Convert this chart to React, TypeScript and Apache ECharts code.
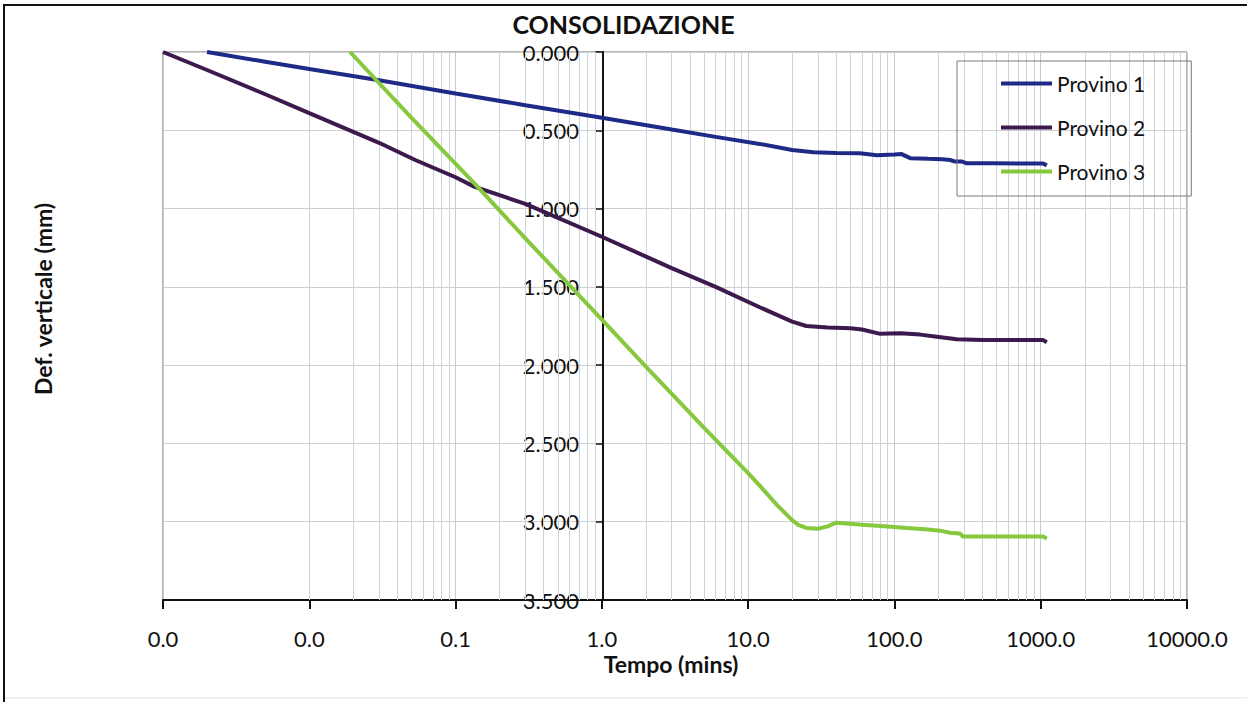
import React, { useEffect, useRef } from "react";
import * as echarts from "echarts";

// Elapsed time (minutes) and vertical deformation (mm) for each specimen
const time1 = [0.002, 0.005, 0.01, 0.03, 0.1, 0.3, 1, 3, 6, 12, 20, 28, 40, 58, 76, 100, 112, 128, 170, 214, 240, 260, 290, 313, 470, 700, 1040, 1100];
const def1 = [0, 0.062, 0.109, 0.18, 0.265, 0.34, 0.42, 0.495, 0.542, 0.587, 0.626, 0.64, 0.645, 0.647, 0.66, 0.655, 0.652, 0.678, 0.682, 0.685, 0.69, 0.7, 0.7, 0.711, 0.711, 0.712, 0.712, 0.724];

const time2 = [0.001, 0.002, 0.005, 0.01, 0.03, 0.053, 0.1, 0.134, 0.3, 1, 3, 6, 12, 20, 25, 35, 50, 60, 80, 110, 150, 195, 267, 400, 700, 1040, 1100];
const def2 = [0, 0.115, 0.27, 0.39, 0.58, 0.69, 0.8, 0.86, 0.97, 1.18, 1.38, 1.5, 1.63, 1.722, 1.75, 1.76, 1.765, 1.772, 1.8, 1.796, 1.805, 1.818, 1.835, 1.84, 1.84, 1.84, 1.854];

const time3 = [0.019, 0.05, 0.138, 0.3, 1, 2, 5, 10, 12, 16, 20, 22, 25, 30, 35, 40, 60, 90, 122, 170, 205, 240, 280, 294, 500, 800, 1040, 1100];
const def3 = [0, 0.42, 0.85, 1.19, 1.71, 2.01, 2.4, 2.69, 2.77, 2.9, 2.99, 3.02, 3.04, 3.045, 3.03, 3.006, 3.02, 3.03, 3.04, 3.05, 3.057, 3.07, 3.075, 3.095, 3.095, 3.095, 3.095, 3.108];

const seriesNames = ["Provino 1", "Provino 2", "Provino 3"];
const seriesColors = ["#1f2a86", "#3c1a4e", "#86c83e"];

// Axis ranges
const timeMin = 0.001;
const timeMax = 10000;
const defMin = 0;
const defMax = 3.5;
const defStep = 0.5;

// Minor log gridlines (2..9 in every decade)
const minorGrid: number[] = [];
for (let e = -3; e < 4; e++) {
  for (let k = 2; k <= 9; k++) minorGrid.push(k * Math.pow(10, e));
}

const FONT = "Lato";

const pairs = (t: number[], d: number[]) => t.map((v, i) => [v, d[i]]);

export default function App() {
  const ref = useRef<HTMLDivElement>(null);

  useEffect(() => {
    if (!ref.current) return;
    const chart = echarts.init(ref.current, null, { renderer: "svg" });

    const dataSets = [pairs(time1, def1), pairs(time2, def2), pairs(time3, def3)];

    chart.setOption({
      animation: false,
      backgroundColor: "#ffffff",
      title: {
        text: "CONSOLIDAZIONE",
        left: "center",
        top: 6,
        textStyle: { fontFamily: FONT, fontWeight: "bold", fontSize: 25, color: "#111" },
      },
      grid: {
        left: 163,
        top: 52,
        width: 1024,
        height: 548,
        show: true,
        borderColor: "#6a6a6a",
        borderWidth: 1,
        backgroundColor: "transparent",
      },
      legend: {
        data: seriesNames,
        orient: "vertical",
        left: 957,
        top: 61,
        padding: [12, 46, 14, 44],
        icon: "rect",
        itemWidth: 51,
        itemHeight: 4,
        itemGap: 23,
        borderColor: "#7a7a7a",
        borderWidth: 1,
        backgroundColor: "transparent",
        textStyle: { fontFamily: FONT, fontSize: 21, lineHeight: 20, color: "#111" },
      },
      xAxis: {
        type: "log",
        logBase: 10,
        min: timeMin,
        max: timeMax,
        splitNumber: 7,
        axisLine: { show: true, onZero: false, lineStyle: { color: "#111", width: 2 } },
        axisTick: { show: true, inside: false, length: 9, lineStyle: { color: "#111", width: 2 } },
        axisLabel: {
          margin: 27,
          fontFamily: FONT,
          fontSize: 22,
          lineHeight: 22,
          color: "#111",
          formatter: (v: number) => Number(v).toFixed(1),
        },
        splitLine: { show: true, lineStyle: { color: "#c6ccd4", width: 1 } },
        minorTick: { show: false },
      },
      yAxis: {
        type: "value",
        inverse: true,
        min: defMin,
        max: defMax,
        interval: defStep,
        position: "left",
        offset: -440,
        axisLine: { show: true, onZero: false, lineStyle: { color: "#111", width: 2 } },
        axisTick: { show: true, inside: false, length: 8, lineStyle: { color: "#111", width: 1.5 } },
        axisLabel: {
          margin: 24,
          fontFamily: FONT,
          fontSize: 22,
          color: "#111",
          formatter: (v: number) => Number(v).toFixed(3),
        },
        splitLine: { show: true, lineStyle: { color: "#cfcfcf", width: 1 } },
      },
      graphic: [
        {
          type: "text",
          x: 43,
          y: 299,
          rotation: Math.PI / 2,
          style: {
            text: "Def. verticale (mm)",
            fontFamily: FONT,
            fontWeight: "bold",
            fontSize: 23,
            fill: "#111",
            align: "center",
            verticalAlign: "middle",
          },
        },
        {
          type: "text",
          x: 671,
          y: 664,
          style: {
            text: "Tempo (mins)",
            fontFamily: FONT,
            fontWeight: "bold",
            fontSize: 23,
            fill: "#111",
            align: "center",
            verticalAlign: "middle",
          },
        },
        // page frame
        { type: "line", shape: { x1: 3, y1: 5, x2: 1247, y2: 5 }, style: { stroke: "#111", lineWidth: 2 } },
        { type: "line", shape: { x1: 4, y1: 5, x2: 4, y2: 702 }, style: { stroke: "#111", lineWidth: 2 } },
        { type: "line", shape: { x1: 5, y1: 698, x2: 1247, y2: 698 }, style: { stroke: "#e2e2e2", lineWidth: 1 } },
      ],
      series: [
        {
          type: "line",
          data: [],
          silent: true,
          z: 1,
          markLine: {
            silent: true,
            z: 1,
            symbol: ["none", "none"],
            label: { show: false },
            lineStyle: { color: "#cdd3da", width: 1, type: "solid" },
            emphasis: { disabled: true },
            data: minorGrid.map((v) => ({ xAxis: v })),
          },
        },
        ...seriesNames.map((name, i) => ({
          name,
          type: "line",
          data: dataSets[i],
          symbol: "none",
          smooth: false,
          z: 3,
          color: seriesColors[i],
          lineStyle: { color: seriesColors[i], width: 4 },
        })),
      ],
    });

    return () => chart.dispose();
  }, []);

  return (
    <div
      ref={ref}
      style={{ position: "absolute", left: 0, top: 0, width: 1247, height: 702, background: "#fff" }}
    />
  );
}
